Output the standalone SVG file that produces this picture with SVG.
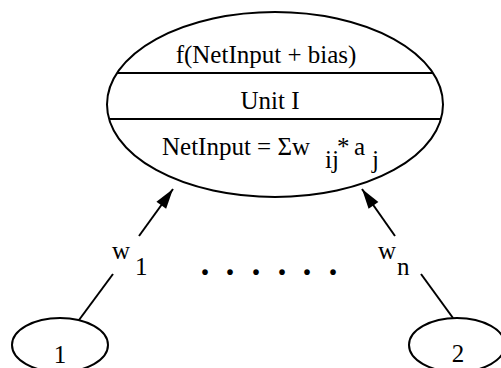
<svg xmlns="http://www.w3.org/2000/svg" width="501" height="368" viewBox="0 0 501 368">
  <style>
    .shape { fill: none; stroke: #000; stroke-width: 2; }
    .edge { fill: none; stroke: #000; stroke-width: 2; }
    text { font-family: "Liberation Serif", "Times New Roman", serif; font-size: 25px; fill: #000; }
    .mid { text-anchor: middle; }
  </style>
  <defs>
    <marker id="arrow" markerUnits="userSpaceOnUse" markerWidth="22" markerHeight="14" refX="21" refY="7" orient="auto">
      <path d="M1,1 L21,7 L1,13 z" fill="#000"/>
    </marker>
  </defs>
  <rect width="501" height="368" fill="#fff"/>

  <!-- unit I: activation / name / net input -->
  <g id="unit-i">
    <ellipse class="shape" cx="275" cy="104.5" rx="168" ry="92.5"/>
    <line class="shape" x1="117" y1="73" x2="433" y2="73"/>
    <line class="shape" x1="109" y1="119" x2="441" y2="119"/>
    <text class="mid" x="266" y="63">f(NetInput + bias)</text>
    <text class="mid" x="270" y="109">Unit I</text>
    <text x="162" y="155">NetInput = Σw</text>
    <text x="325" y="168">ij</text>
    <text x="337" y="155">*</text>
    <text x="354" y="155">a</text>
    <text x="372" y="168">j</text>
  </g>

  <!-- input units -->
  <g id="input-1">
    <ellipse class="shape" cx="60" cy="345" rx="48" ry="27"/>
    <text class="mid" x="60" y="363">1</text>
  </g>
  <g id="input-2">
    <ellipse class="shape" cx="457" cy="345" rx="48" ry="27"/>
    <text class="mid" x="458" y="362">2</text>
  </g>

  <!-- weighted connections -->
  <g id="connectors">
    <line class="edge" x1="79" y1="320" x2="113" y2="274"/>
    <line class="edge" x1="139" y1="236" x2="173" y2="189" marker-end="url(#arrow)"/>
    <text x="112" y="259">w</text>
    <text x="135" y="275">1</text>

    <line class="edge" x1="453" y1="318" x2="421" y2="274"/>
    <line class="edge" x1="395" y1="236" x2="362" y2="189" marker-end="url(#arrow)"/>
    <text x="378" y="259">w</text>
    <text x="397" y="275">n</text>
  </g>

  <!-- remaining inputs elided -->
  <g id="ellipsis">
    <text class="mid" x="205 230 256 282 307 333" y="275" style="font-size:48px">......</text>
  </g>
</svg>
